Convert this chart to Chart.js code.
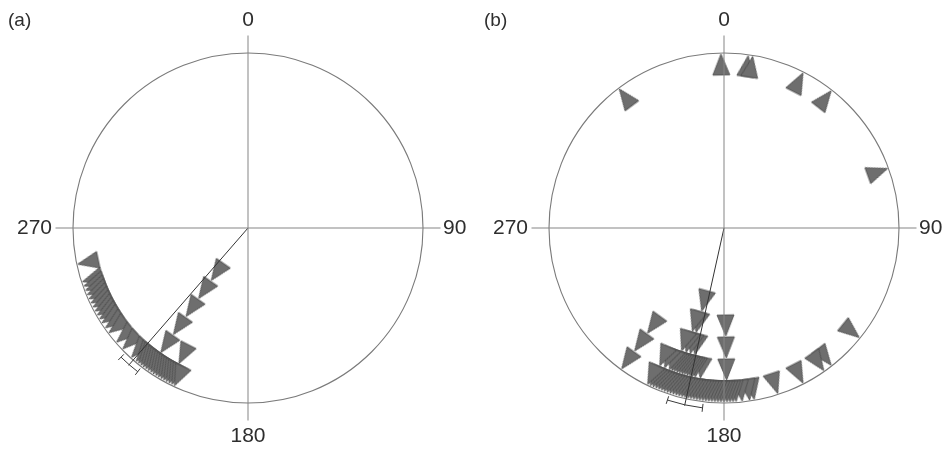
<!DOCTYPE html>
<html>
<head>
<meta charset="utf-8">
<script src="https://cdn.jsdelivr.net/npm/chart.js@4.4.0/dist/chart.umd.min.js"></script>
<style>
body { margin: 0; background: #fff; }
.wrap { display: flex; width: 944px; height: 451px; }
canvas { display: block; }
</style>
</head>
<body>
<div class="wrap">
<canvas id="chartA" width="472" height="451"></canvas>
<canvas id="chartB" width="472" height="451"></canvas>
</div>
<script>
const axisLabels = ["0", "90", "180", "270"];
const panelNames = ["(a)", "(b)"];

// observed directions in degrees, repeated values stack inward
const anglesA = [258,
    252, 250.5, 249, 247.5, 246, 244.5, 243, 241.5, 240, 238.5, 237, 235, 233,
    229, 226, 222,
    220, 219, 218, 217, 216, 215, 214, 213, 212, 211, 210, 209, 208, 207, 206, 205,
    215, 215, 215, 215, 215,
    207];
const meanA = 221;
const ciA = 3.5;

const anglesB = [323, 359, 8, 9.5, 27, 38, 70,
    129, 142, 145, 153, 162, 170, 171.5, 174, 176,
    177, 178, 179, 180, 181, 182, 183, 184, 185, 186, 187, 188, 189, 190, 191,
    192, 193, 194, 195, 196, 197, 198, 199, 200, 201, 202, 203, 204, 205, 206,
    179, 179, 179,
    189, 191, 192, 193, 194, 195, 196, 197, 198, 199, 200, 201, 203, 205,
    193, 195, 197, 199,
    195, 197,
    195,
    216, 216, 216];
const meanB = 192.5;
const ciB = 5.7;

const R_PX = 175;
const TRI_W = 17;
const TRI_H = 21;
const STACK_PX = 22;

const rad = d => d * Math.PI / 180;

function makeTriangle() {
    const c = document.createElement("canvas");
    c.width = TRI_W + 2;
    c.height = TRI_H + 2;
    const g = c.getContext("2d");
    g.beginPath();
    g.moveTo(c.width / 2, 1);
    g.lineTo(c.width - 1, TRI_H + 1);
    g.lineTo(1, TRI_H + 1);
    g.closePath();
    g.fillStyle = "#6e6e6e";
    g.fill();
    g.strokeStyle = "#4a4a4a";
    g.lineWidth = 0.8;
    g.stroke();
    return c;
}
const triangle = makeTriangle();

function stackPoints(angles) {
    const seen = {};
    return angles.map(a => {
        const level = seen[a] || 0;
        seen[a] = level + 1;
        const r = 1 - (TRI_H / 2 + 1 + level * STACK_PX) / R_PX;
        return { x: r * Math.sin(rad(a)), y: r * Math.cos(rad(a)), a: a };
    });
}

const compassPlugin = {
    id: "compass",
    beforeDatasetsDraw(chart) {
        const { ctx, scales } = chart;
        const cx = scales.x.getPixelForValue(0);
        const cy = scales.y.getPixelForValue(0);
        const R = scales.x.getPixelForValue(1) - cx;
        ctx.save();
        ctx.strokeStyle = "#7a7a7a";
        ctx.lineWidth = 1.1;
        ctx.beginPath();
        ctx.arc(cx, cy, R, 0, Math.PI * 2);
        ctx.stroke();
        ctx.restore();
    },
    afterDatasetsDraw(chart, args, opts) {
        const { ctx, scales } = chart;
        const cx = scales.x.getPixelForValue(0);
        const cy = scales.y.getPixelForValue(0);
        const R = scales.x.getPixelForValue(1) - cx;
        ctx.save();
        ctx.strokeStyle = "#858585";
        ctx.lineWidth = 1;
        ctx.beginPath();
        ctx.moveTo(cx, cy - 1.1 * R);
        ctx.lineTo(cx, cy + 1.1 * R);
        ctx.moveTo(cx - 1.1 * R, cy);
        ctx.lineTo(cx + 1.1 * R, cy);
        ctx.stroke();

        // confidence arc at the mean direction
        const rr = 1.035 * R;
        const a0 = rad(opts.mean - opts.ci - 90);
        const a1 = rad(opts.mean + opts.ci - 90);
        ctx.strokeStyle = "#3a3a3a";
        ctx.beginPath();
        ctx.arc(cx, cy, rr, a0, a1);
        [a0, a1].forEach(t => {
            ctx.moveTo(cx + (rr - 4) * Math.cos(t), cy + (rr - 4) * Math.sin(t));
            ctx.lineTo(cx + (rr + 4) * Math.cos(t), cy + (rr + 4) * Math.sin(t));
        });
        ctx.stroke();

        ctx.fillStyle = "#2e2e2e";
        ctx.font = "21px 'Liberation Sans', Arial, sans-serif";
        ctx.textBaseline = "middle";
        ctx.textAlign = "center";
        ctx.fillText(axisLabels[0], cx, cy - 1.189 * R);
        ctx.fillText(axisLabels[2], cx, cy + 1.189 * R);
        ctx.textAlign = "left";
        ctx.fillText(axisLabels[1], cx + 1.114 * R, cy);
        ctx.textAlign = "right";
        ctx.fillText(axisLabels[3], cx - 1.12 * R, cy);

        ctx.font = "19px 'Liberation Sans', Arial, sans-serif";
        ctx.textAlign = "left";
        ctx.fillText(opts.name, opts.nameX, 21);
        ctx.restore();
    }
};

function makeChart(id, angles, mean, ci, name, centerX, nameX) {
    const ctx = document.getElementById(id).getContext("2d");
    const tip = 1.04;
    return new Chart(ctx, {
        type: "scatter",
        data: {
            datasets: [{
                type: "line",
                data: [{ x: 0, y: 0 }, { x: tip * Math.sin(rad(mean)), y: tip * Math.cos(rad(mean)) }],
                borderColor: "#333",
                borderWidth: 1,
                pointRadius: 0,
                fill: false
            }, {
                data: stackPoints(angles),
                pointStyle: triangle,
                pointRadius: 10,
                pointRotation: c => c.raw ? c.raw.a : 0
            }]
        },
        options: {
            responsive: false,
            animation: false,
            events: [],
            layout: { padding: 0, autoPadding: false },
            scales: {
                x: { type: "linear", display: false, min: -centerX / R_PX, max: (472 - centerX) / R_PX },
                y: { type: "linear", display: false, min: -223 / R_PX, max: 228 / R_PX }
            },
            plugins: {
                legend: { display: false },
                tooltip: { enabled: false },
                compass: { mean: mean, ci: ci, name: name, nameX: nameX }
            }
        },
        plugins: [compassPlugin]
    });
}

makeChart("chartA", anglesA, meanA, ciA, panelNames[0], 248, 8);
makeChart("chartB", anglesB, meanB, ciB, panelNames[1], 252, 12);
</script>
</body>
</html>
